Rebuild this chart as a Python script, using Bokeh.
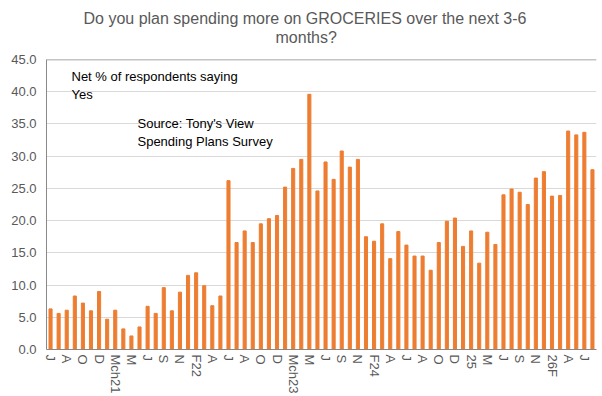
from bokeh.plotting import figure
from bokeh.models import (FixedTicker, Range1d, Label, Span, Title,
                          ColumnDataSource, NumeralTickFormatter)
from bokeh.embed import file_html
from bokeh.resources import INLINE

# Net % of respondents saying Yes (one bar per survey month)
values = [6.3, 5.6, 6.1, 8.3, 7.2, 6.0, 9.0, 4.7, 6.1, 3.2,
          2.1, 3.5, 6.7, 5.6, 9.6, 6.0, 8.9, 11.5, 11.9, 9.9,
          6.8, 8.3, 26.2, 16.6, 18.4, 16.6, 19.5, 20.3, 20.8, 25.2,
          28.1, 29.5, 39.6, 24.6, 29.1, 26.4, 30.8, 28.3, 29.5, 17.5,
          16.8, 19.5, 14.1, 18.3, 16.2, 14.5, 14.5, 12.3, 16.6, 19.9,
          20.4, 16.0, 18.4, 13.4, 18.2, 16.3, 24.0, 24.9, 24.4, 22.5,
          26.6, 27.6, 23.8, 23.9, 33.9, 33.3, 33.7, 27.9]

# labels shown under every other bar
tick_labels = ["J", "A", "O", "D", "Mch21", "M", "J", "S", "N", "F22",
               "A", "J", "A", "O", "D", "Mch23", "M", "J", "S", "N",
               "F24", "A", "J", "A", "O", "D", "25", "M", "J", "S",
               "N", "26F", "A", "J"]

y_ticks = [0, 5, 10, 15, 20, 25, 30, 35, 40, 45]

title_lines = ["Do you plan spending more on GROCERIES over the next 3-6", "months?"]

FONT = "Liberation Sans"
GREY = "#595959"
AXIS = "#898989"
ORANGE = "#ED7D31"

n = len(values)
source = ColumnDataSource(dict(x=list(range(n)), v=values))

p = figure(width=602, height=396, output_backend="svg", toolbar_location=None,
           x_range=Range1d(-0.5, n - 0.5), y_range=Range1d(0, 45),
           min_border_left=46, min_border_right=6, min_border_bottom=47,
           min_border_top=59)
p.title = None

# spacer between plot and title, then the two title lines (bottom to top)
p.add_layout(Title(text=" ", text_font_size="11px", standoff=0,
                   text_font=FONT), "above")
p.add_layout(Title(text=title_lines[1], align="left", offset=229,
                   text_font_size="16px", text_color=GREY, standoff=0,
                   text_font_style="normal", text_font=FONT), "above")
p.add_layout(Title(text=title_lines[0], align="left", offset=37,
                   text_font_size="16px", text_color=GREY, standoff=0,
                   text_font_style="normal", text_font=FONT), "above")

p.vbar(x="x", top="v", width=0.38, color=ORANGE, source=source)

# axes
xt = list(range(0, n, 2))
p.xaxis.ticker = FixedTicker(ticks=xt)
p.xaxis.major_label_overrides = {t: lab for t, lab in zip(xt, tick_labels)}
p.xaxis.major_label_orientation = "vertical"
p.xaxis.major_label_text_font = FONT
p.xaxis.major_label_text_font_size = "13px"
p.xaxis.major_label_text_color = GREY
p.xaxis.major_label_standoff = 5
p.xaxis.major_tick_out = 0
p.xaxis.major_tick_in = 0
p.xaxis.minor_tick_out = 0
p.xaxis.minor_tick_in = 0
p.xaxis.axis_line_color = AXIS

p.yaxis.ticker = FixedTicker(ticks=y_ticks)
p.yaxis.formatter = NumeralTickFormatter(format="0.0")
p.yaxis.major_label_text_font = FONT
p.yaxis.major_label_text_font_size = "13px"
p.yaxis.major_label_text_color = GREY
p.yaxis.major_label_standoff = 10
p.yaxis.major_tick_out = 0
p.yaxis.major_tick_in = 0
p.yaxis.minor_tick_out = 0
p.yaxis.minor_tick_in = 0
p.yaxis.axis_line_color = AXIS

p.xgrid.visible = False
p.ygrid.grid_line_color = "#D9D9D9"
p.outline_line_color = None
p.add_layout(Span(location=45, dimension="width", line_color=AXIS, line_width=1.5))

p.add_layout(Label(x=2.59, y=43.45, text="Net % of respondents saying\nYes",
                   text_font=FONT, text_font_size="13px", text_color="#000000",
                   text_baseline="top", text_align="left"))
p.add_layout(Label(x=10.75, y=36.16, text="Source: Tony's View\nSpending Plans Survey",
                   text_font=FONT, text_font_size="13px", text_color="#000000",
                   text_baseline="top", text_align="left"))

open("out.html", "w").write(file_html(p, INLINE))
